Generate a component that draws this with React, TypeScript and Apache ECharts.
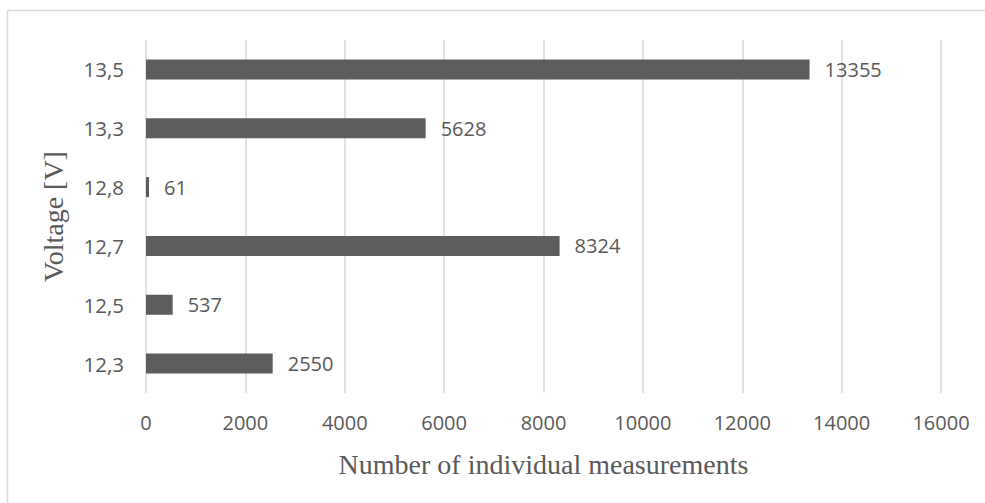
import React, { useEffect, useRef } from "react";
import * as echarts from "echarts";

const categories = ["12,3", "12,5", "12,7", "12,8", "13,3", "13,5"];
const values = [2550, 537, 8324, 61, 5628, 13355];
const xTicks = { min: 0, max: 16000, interval: 2000 };
const xTitle = "Number of individual measurements";
const yTitle = "Voltage [V]";

export default function App() {
  const ref = useRef<HTMLDivElement>(null);
  useEffect(() => {
    if (!ref.current) return;
    const chart = echarts.init(ref.current, null, { renderer: "svg" });
    const textColor = "#595959";
    chart.setOption({
      animation: false,
      backgroundColor: "#ffffff",
      graphic: [
        {
          type: "rect",
          shape: { x: 7.5, y: 10.5, width: 1200, height: 800 },
          style: { fill: "none", stroke: "#d9d9d9", lineWidth: 1.5 },
          silent: true,
          z: -10,
        },
      ],
      grid: { left: 146, right: 44, top: 40, bottom: 110, containLabel: false },
      xAxis: {
        type: "value",
        min: xTicks.min,
        max: xTicks.max,
        interval: xTicks.interval,
        axisLine: { show: false },
        axisTick: { show: false },
        splitLine: { show: true, lineStyle: { color: "#d9d9d9", width: 1.5 } },
        axisLabel: {
          color: textColor,
          fontFamily: "Open Sans",
          fontSize: 20,
          margin: 19,
          formatter: (v: number) => String(v),
        },
        name: xTitle,
        nameLocation: "middle",
        nameGap: 57,
        nameTextStyle: {
          color: textColor,
          fontFamily: "Liberation Serif",
          fontSize: 28,
        },
      },
      yAxis: {
        type: "category",
        data: categories,
        axisLine: { show: false },
        axisTick: { show: false },
        splitLine: { show: false },
        axisLabel: {
          color: textColor,
          fontFamily: "Open Sans",
          fontSize: 20.5,
          margin: 22,
        },
        name: yTitle,
        nameLocation: "middle",
        nameGap: 79,
        nameTextStyle: {
          color: textColor,
          fontFamily: "Liberation Serif",
          fontSize: 28,
        },
      },
      series: [
        {
          type: "bar",
          data: values,
          barCategoryGap: "66%",
          itemStyle: { color: "#5d5d5d" },
          label: {
            show: true,
            position: "right",
            distance: 15,
            color: textColor,
            fontFamily: "Open Sans",
            fontSize: 20,
            formatter: (p: any) => String(p.value),
          },
        },
      ],
    });
    return () => chart.dispose();
  }, []);
  return <div ref={ref} style={{ width: 985, height: 503, position: "absolute", left: 0, top: 0 }} />;
}
